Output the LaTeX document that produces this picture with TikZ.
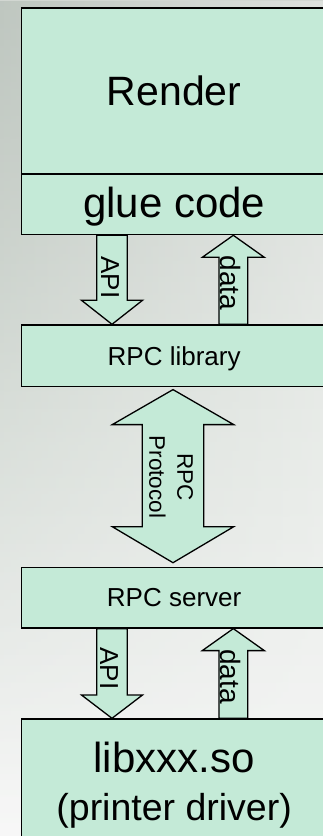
\documentclass[tikz,border=0pt]{standalone}
\usepackage{fontspec}
\setmainfont{Liberation Sans}
\usetikzlibrary{calc,fadings}
\definecolor{boxfill}{RGB}{196,234,215}
\definecolor{bgtop}{RGB}{210,215,210}
\definecolor{bgmid}{RGB}{233,237,233}
\definecolor{bgbot}{RGB}{248,248,248}
\definecolor{ovl}{RGB}{178,188,180}
\definecolor{ovr}{RGB}{230,232,230}
\tikzset{
  box/.style={draw=black, line width=1.3pt, fill=boxfill, rectangle, inner sep=0pt,
    minimum width=305pt, anchor=north west, text depth=0pt},
  blk/.style={draw=black, line width=1.3pt, fill=boxfill, line join=miter},
  arrlbl/.style={rotate=-90, anchor=base, inner sep=0pt},
  bigfont/.style={font=\fontsize{42}{48.3}\selectfont},
  midfont/.style={font=\fontsize{26}{30}\selectfont},
  datafont/.style={font=\fontsize{28}{32}\selectfont},
  protofont/.style={font=\fontsize{22.5}{28}\selectfont},
}
% down block arrow: #1 upper node anchor, #2 lower node anchor, #3 centre x, #4 shaft half, #5 head half, #6 head length
\newcommand{\blkdown}[6]{%
  \draw[blk] let \p1=(#1), \p2=(#2) in
    ({#3-#4},\y1) -- ({#3+#4},\y1) -- ({#3+#4},{\y2+#6}) -- ({#3+#5},{\y2+#6})
    -- (#3,\y2) -- ({#3-#5},{\y2+#6}) -- ({#3-#4},{\y2+#6}) -- cycle;}
% up block arrow: #1 lower node anchor (tail), #2 upper node anchor (tip)
\newcommand{\blkup}[6]{%
  \draw[blk] let \p1=(#1), \p2=(#2) in
    ({#3-#4},\y1) -- ({#3-#4},{\y2-#6}) -- ({#3-#5},{\y2-#6}) -- (#3,\y2)
    -- ({#3+#5},{\y2-#6}) -- ({#3+#4},{\y2-#6}) -- ({#3+#4},\y1) -- cycle;}
\begin{document}
\begin{tikzpicture}[x=1pt,y=1pt]
\useasboundingbox (0,0) rectangle (323,-836);
\clip (0,0) rectangle (323,-836);
% background
\shade[top color=bgtop, bottom color=bgbot, middle color=bgmid] (0,0) rectangle (323,-836);
\shade[left color=ovl, right color=ovr, path fading=south, opacity=0.6] (0,0) rectangle (323,-836);

% boxes
\node[box, minimum height=166pt, font=\fontsize{41}{48}\selectfont] (render) at (21,-7.3) {Render};
\node[box, minimum height=60.7pt, bigfont, text depth=4.6pt] (glue) at (21,-173.3) {glue code};
\node[box, minimum height=61.4pt, midfont] (rpclib) at (21,-324.3) {RPC library};
\node[box, minimum height=60.6pt, midfont] (rpcsrv) at (21,-566.7) {RPC server};
\node[box, minimum height=124.4pt, bigfont, align=center] (libbox) at (21,-718.3)
  {libxxx.so\\{\fontsize{37.5}{48.3}\selectfont (printer driver)}};

% upper arrows
\blkdown{glue.south}{rpclib.north}{112}{15.3}{30.5}{24}
\blkup{rpclib.north}{glue.south}{233.3}{14.4}{31}{22}
\path let \p1=($(glue.south)!.5!(rpclib.north)$) in
  node[arrlbl, midfont] (apiA) at (101,{\y1+2.5}) {API}
  node[arrlbl, datafont] (dataA) at (220,{\y1-3}) {data};

% RPC protocol double arrow
\draw[blk] let \p1=(rpclib.south), \p2=(rpcsrv.north) in
  (173,{\y1-2.6}) -- ({173+60.7},{\y1-37.6}) -- ({173+30.8},{\y1-37.6})
  -- ({173+30.8},{\y2+40}) -- ({173+60.7},{\y2+40}) -- (173,{\y2+4})
  -- ({173-60.7},{\y2+40}) -- ({173-30.8},{\y2+40}) -- ({173-30.8},{\y1-37.6})
  -- ({173-60.7},{\y1-37.6}) -- cycle;
\path let \p1=($(rpclib.south)!.5!(rpcsrv.north)$) in
  node[rotate=-90, align=center, inner sep=0pt, protofont] (proto) at (171,\y1) {RPC\\Protocol};

% lower arrows
\blkdown{rpcsrv.south}{libbox.north}{112}{15.3}{30.5}{23.3}
\blkup{libbox.north}{rpcsrv.south}{233.3}{14.4}{31}{22}
\path let \p1=($(rpcsrv.south)!.5!(libbox.north)$) in
  node[arrlbl, midfont] (apiB) at (100,{\y1+5}) {API}
  node[arrlbl, datafont] (dataB) at (220,{\y1-3}) {data};
\end{tikzpicture}
\end{document}
